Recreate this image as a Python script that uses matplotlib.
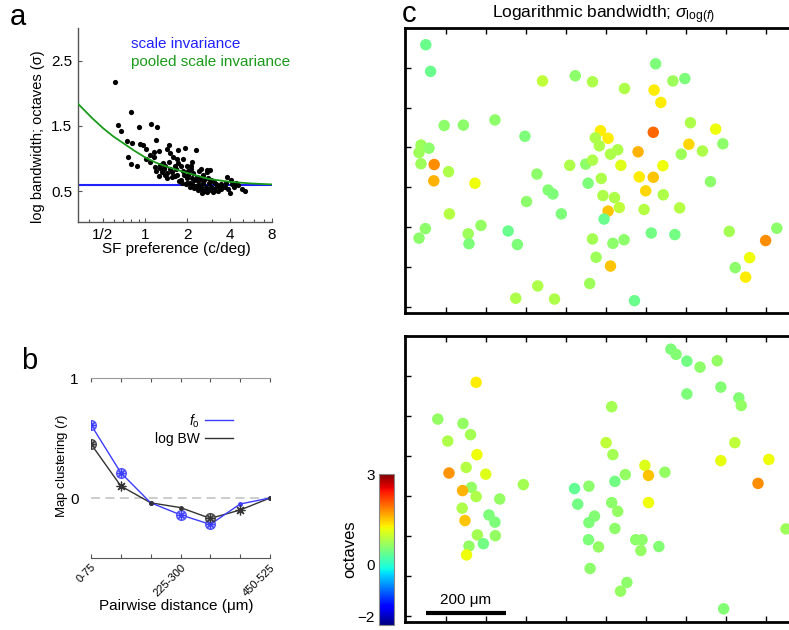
import numpy as np
import matplotlib
matplotlib.use('Agg')
import matplotlib.pyplot as plt
from matplotlib.colors import Normalize
from matplotlib.cm import ScalarMappable

plt.rcParams['font.family'] = ['Liberation Sans', 'DejaVu Sans']
plt.rcParams['mathtext.fontset'] = 'custom'
plt.rcParams['mathtext.rm'] = 'Liberation Sans'
plt.rcParams['mathtext.it'] = 'Liberation Sans:italic'

# ---- panel a: SF preference (octaves re 1 c/deg) vs log bandwidth
sf_oct = [-0.71, -0.34, -0.63, -0.56, -0.15, 0.14, 0.28, -0.42, -0.30, -0.12,
          -0.06, 0.25, 0.02, -0.41, -0.34, -0.20, 0.56, 0.33, 0.52, 0.78,
          0.95, 1.21, 0.22, 0.12, 0.20, 0.60, 0.66, 0.76, 0.89, 0.02,
          0.12, 1.10, 0.42, 0.56, 0.24, 0.36, 0.48, 0.58, 0.70, 0.84,
          0.98, 1.08, 0.26, 0.40, 0.52, 0.64, 0.76, 0.90, 1.02, 1.14,
          1.28, 1.46, 1.53, 0.34, 0.46, 0.86, 0.98, 1.10, 1.22, 1.36,
          1.48, 0.88, 1.06, 1.24, 1.36, 1.50, 1.64, 1.93, 2.02, 1.80,
          1.92, 2.06, 2.20, 1.20, 1.32, 1.44, 1.56, 1.70, 1.84, 1.24,
          1.40, 1.50, 1.64, 1.80, 1.96, 2.28, 2.36, 1.12, 0.98, 0.52,
          0.64, 0.74, 1.08, 1.72, 1.34, 1.16, 1.28, 1.58, 1.62, 1.76,
          0.92, 1.02, 1.16, 1.29, 1.40, 1.56, 1.68, 1.32, 1.46, 1.60,
          1.76, 1.88, 2.10, 2.16, 1.18, 1.06, 0.96, 0.80, 0.70, 0.44,
          0.36, 0.78, 1.32, 1.46, 2.00]
log_bw = [2.18, 1.71, 1.52, 1.42, 1.49, 1.53, 1.49, 1.27, 1.24, 1.23,
          1.21, 1.28, 1.14, 1.03, 0.92, 0.88, 1.21, 1.12, 1.15, 1.13,
          1.16, 1.13, 1.10, 1.05, 1.03, 1.08, 1.03, 0.99, 1.00, 0.99,
          0.95, 0.95, 0.94, 0.95, 0.87, 0.85, 0.88, 0.84, 0.89, 0.88,
          0.89, 0.84, 0.81, 0.80, 0.78, 0.79, 0.75, 0.81, 0.75, 0.78,
          0.81, 0.83, 0.83, 0.73, 0.75, 0.68, 0.70, 0.70, 0.72, 0.75,
          0.71, 0.62, 0.63, 0.66, 0.63, 0.63, 0.64, 0.72, 0.67, 0.61,
          0.62, 0.61, 0.60, 0.58, 0.57, 0.56, 0.57, 0.58, 0.56, 0.52,
          0.51, 0.52, 0.53, 0.53, 0.53, 0.53, 0.50, 0.61, 0.63, 0.71,
          0.72, 0.84, 0.89, 0.50, 0.48, 0.55, 0.60, 0.55, 0.50, 0.58,
          0.75, 0.81, 0.68, 0.69, 0.67, 0.68, 0.61, 0.53, 0.49, 0.49,
          0.57, 0.57, 0.56, 0.63, 0.56, 0.57, 0.61, 0.66, 0.74, 0.84,
          0.91, 0.94, 0.84, 0.79, 0.47]
fit_oct = [-1.585, -1.25, -1.0, -0.75, -0.5, -0.25, 0.0, 0.25, 0.5, 1.0, 1.5, 2.0, 2.5, 3.0]
fit_bw = [1.84, 1.62, 1.47, 1.34, 1.23, 1.12, 1.02, 0.94, 0.88, 0.78, 0.69, 0.645, 0.62, 0.605]
scale_inv_bw = 0.59

# ---- panel b: map clustering vs pairwise distance
dist_labels = ['0-75', '', '', '225-300', '', '', '450-525']
r_fo = [0.61, 0.21, -0.04, -0.14, -0.22, -0.05, 0.0]
r_bw = [0.45, 0.10, -0.04, -0.08, -0.17, -0.10, 0.0]
sig_fo = [2, 2, 0, 2, 2, 0, 0]   # 2 circle+star, 1 star, 0 dot
sig_bw = [2, 1, 0, 0, 2, 1, 0]

# ---- panel c: cell positions (um) and log bandwidth (octaves)
top_x = [50, 62, 342, 424, 467, 547, 625, 668, 698, 621, 638, 96, 144, 223, 298,
         487, 506, 474, 484, 619, 712, 775, 708, 793, 742, 689, 581, 530, 512, 38,
         58, 33, 38, 71, 70, 107, 173, 328, 410, 450, 467, 538, 643, 584, 619,
         489, 456, 762, 600, 644, 356, 368, 493, 522, 302, 534, 506, 596, 685, 389,
         496, 109, 188, 156, 158, 49, 33, 256, 279, 467, 518, 546, 614, 673, 476,
         512, 809, 928, 900, 860, 824, 850, 330, 460, 275, 372, 572]
top_y = [658, 591, 567, 580, 565, 548, 610, 567, 573, 544, 513, 455, 456, 469, 428,
         442, 423, 424, 404, 438, 462, 446, 408, 409, 391, 383, 389, 394, 383, 406,
         398, 387, 359, 357, 316, 339, 310, 333, 355, 358, 368, 355, 354, 326, 325,
         322, 310, 314, 291, 281, 293, 283, 279, 274, 264, 249, 240, 244, 248, 233,
         220, 233, 204, 183, 158, 196, 172, 190, 156, 170, 159, 168, 185, 181, 124,
         102, 189, 197, 166, 123, 98, 74, 52, 58, 21, 19, 15]
top_v = [0.4, 0.4, 0.9, 0.6, 0.8, 0.8, 0.5, 0.7, 0.5, 1.3, 1.3, 0.6, 0.6, 0.6, 0.5,
         1.3, 1.3, 0.8, 0.8, 2.0, 0.8, 1.2, 1.4, 0.6, 0.8, 0.7, 1.6, 0.8, 0.8, 0.7,
         0.6, 0.7, 0.7, 1.8, 1.6, 0.8, 1.2, 0.6, 0.8, 0.6, 0.8, 1.1, 1.2, 1.3, 1.5,
         0.8, 0.5, 0.6, 1.4, 0.8, 0.55, 0.5, 0.8, 0.8, 0.6, 0.9, 1.5, 0.85, 0.85, 0.5,
         0.4, 0.85, 0.65, 0.7, 0.5, 0.6, 0.6, 0.4, 0.5, 0.75, 0.6, 0.6, 0.45, 0.45, 0.7,
         1.5, 0.75, 0.6, 1.8, 1.2, 0.6, 1.3, 0.8, 0.7, 0.8, 0.8, 0.4]

bot_x = [663, 676, 703, 736, 779, 703, 788, 833, 839, 176, 515, 80, 143, 162, 105,
         178, 151, 108, 200, 164, 142, 176, 235, 141, 148, 208, 223, 179, 224, 194,
         158, 152, 294, 501, 518, 598, 607, 648, 549, 523, 458, 422, 430, 515, 530,
         472, 458, 523, 457, 482, 575, 591, 588, 633, 607, 461, 553, 537, 795, 823,
         788, 908, 881, 951]
bot_y = [667, 654, 637, 622, 638, 555, 572, 545, 526, 584, 523, 492, 481, 453, 437,
         403, 371, 357, 354, 321, 313, 298, 292, 269, 238, 252, 234, 202, 200, 180,
         174, 152, 328, 433, 403, 376, 351, 359, 353, 336, 324, 318, 279, 283, 261,
         249, 233, 218, 190, 172, 190, 190, 163, 173, 283, 118, 83, 61, 17, 433,
         388, 391, 331, 217]
bot_v = [0.5, 0.55, 0.45, 0.6, 0.65, 0.5, 0.55, 0.55, 0.65, 1.3, 0.75, 0.65, 0.65, 0.75, 0.8,
         1.2, 0.85, 1.75, 1.1, 0.65, 1.6, 0.8, 0.65, 0.8, 1.5, 0.5, 0.5, 0.75, 0.65, 0.45,
         0.65, 1.2, 0.75, 0.9, 0.75, 1.1, 1.5, 0.65, 0.65, 0.45, 0.6, 0.35, 0.45, 0.6, 0.65,
         0.55, 0.5, 0.6, 0.5, 0.65, 0.6, 0.6, 0.65, 0.55, 1.2, 0.6, 0.6, 0.65, 0.55, 0.9,
         1.15, 1.2, 1.8, 0.7]

fig = plt.figure(figsize=(7.89, 6.30), dpi=100)
W, H = 789.0, 630.0

def box(l, t, r, b):
    return [l / W, 1 - b / H, (r - l) / W, (b - t) / H]

# ================= panel a
axa = fig.add_axes(box(78, 28, 272, 222))
sf = 2.0 ** np.array(sf_oct)
axa.scatter(sf, log_bw, s=14, color='k', zorder=3, linewidths=0)
axa.plot([1 / 3, 8], [scale_inv_bw, scale_inv_bw], color='#2020ff', lw=1.5, zorder=2)
axa.plot(2.0 ** np.array(fit_oct), fit_bw, color='#1a9a1a', lw=1.3, zorder=4)
axa.set_xscale('log', base=2)
axa.set_xlim(1 / 3, 8)
axa.set_ylim(0.03, 3.0)
axa.set_xticks([0.5, 1, 2, 4, 8])
axa.set_xticklabels(['1/2', '1', '2', '4', '8'])
axa.set_xticks([0.4, 0.6, 0.7, 0.8, 0.9, 3, 5, 6, 7], minor=True)
axa.xaxis.set_minor_formatter(plt.NullFormatter())
axa.set_yticks([0.5, 1.5, 2.5])
axa.set_yticklabels(['0.5', '1.5', '2.5'])
axa.tick_params(direction='in', length=3, width=0.8, labelsize=11, color='#555555', pad=4)
axa.tick_params(which='minor', direction='in', length=2, width=0.8, color='#555555')
for s in ['top', 'right']:
    axa.spines[s].set_visible(False)
for s in ['left', 'bottom']:
    axa.spines[s].set_color('#555555')
    axa.spines[s].set_linewidth(1.0)
axa.set_xlabel('SF preference (c/deg)', fontsize=11)
axa.xaxis.set_label_coords(0.505, -0.105)
axa.set_ylabel('log bandwidth; octaves (σ)', fontsize=10.5)
axa.yaxis.set_label_coords(-0.17, 0.44)
axa.text(0.273, 0.918, 'scale invariance', color='#2020ff', fontsize=11,
         transform=axa.transAxes, va='center', ha='left')
axa.text(0.273, 0.825, 'pooled scale invariance', color='#1a9a1a', fontsize=11,
         transform=axa.transAxes, va='center', ha='left', clip_on=False)

# ================= panel b
axb = fig.add_axes(box(91, 378, 270, 558))
xb = np.arange(len(r_fo))
axb.axhline(0, color='#c8c8c8', lw=1.3, ls=(0, (5, 3)), zorder=1)
axb.plot(xb, r_fo, color='#3c3cff', lw=1.0, zorder=3, label=r'$f_\mathrm{o}$')
axb.plot(xb, r_bw, color='#333333', lw=1.0, zorder=2, label='log BW')
for vals, sig, col, fill in [(r_fo, sig_fo, '#3c3cff', '#b4b4ff'),
                              (r_bw, sig_bw, '#333333', '#aaaaaa')]:
    for i in range(len(vals)):
        if sig[i] == 2:
            axb.plot(i, vals[i], 'o', ms=7, mfc=fill, mec=col, mew=1.0, alpha=0.85, zorder=4)
            axb.plot(i, vals[i], marker=(8, 2, 0), ms=6, color=col, mew=0.8, zorder=5)
        elif sig[i] == 1:
            axb.plot(i, vals[i], marker=(8, 2, 0), ms=7, color=col, mew=0.9, zorder=5)
        else:
            axb.plot(i, vals[i], 'o', ms=2.5, color=col, zorder=5)
axb.set_xlim(0, 6)
axb.set_ylim(-0.5, 1)
axb.set_xticks(xb)
axb.set_xticklabels(dist_labels, rotation=45, ha='right', va='top',
                    rotation_mode='anchor', fontsize=8)
axb.set_yticks([0, 1])
axb.set_yticklabels(['0', '1'])
axb.tick_params(axis='x', direction='in', length=3, width=0.8, color='#555555',
                top=True, pad=3)
axb.tick_params(axis='y', length=0, labelsize=11, pad=9)
for s in ['left', 'right']:
    axb.spines[s].set_visible(False)
axb.spines['top'].set_color('#999999')
axb.spines['bottom'].set_color('#555555')
axb.set_xlabel('Pairwise distance (μm)', fontsize=11)
axb.xaxis.set_label_coords(0.475, -0.23)
axb.set_ylabel(r'Map clustering ($r$)', fontsize=9.5)
axb.yaxis.set_label_coords(-0.12, 0.51)
leg = axb.legend(loc='center', bbox_to_anchor=(0.575, 0.717), frameon=False,
                 markerfirst=False, fontsize=10, handlelength=2.0,
                 handletextpad=0.4, labelspacing=0.15)
for t in leg.get_texts():
    t.set_ha('right')

# ================= panel c
norm = Normalize(vmin=-2, vmax=3)
cmap = plt.get_cmap('jet')

def map_panel(ax, x, y, v):
    ax.scatter(x, y, c=v, cmap=cmap, norm=norm, s=68, linewidths=0, zorder=3)
    ax.set_xlim(-2, 986)
    ax.set_ylim(-16, 700)
    ax.set_xticks(np.arange(100, 1000, 100))
    ax.set_yticks(np.arange(0, 700, 100))
    ax.tick_params(direction='in', length=4, width=1.0, top=True, right=True,
                   labelbottom=False, labelleft=False)
    for s in ax.spines.values():
        s.set_linewidth(2.0)

axc1 = fig.add_axes(box(405, 28, 800, 313))
map_panel(axc1, top_x, top_y, top_v)
axc2 = fig.add_axes(box(405, 336, 800, 622))
map_panel(axc2, bot_x, bot_y, bot_v)
axc2.plot([50, 250], [7, 7], color='k', lw=3, solid_capstyle='butt', zorder=4)
axc2.text(150, 40, '200 μm', ha='center', va='center', fontsize=11)

fig.text(604 / W, 1 - 15 / H, r'Logarithmic bandwidth; $\sigma_{\mathrm{log}(f)}$',
         ha='center', va='center', fontsize=12.5)

# colorbar
cax = fig.add_axes(box(379, 474, 394, 625))
cb = fig.colorbar(ScalarMappable(norm=norm, cmap=cmap), cax=cax, ticks=[-2, 0, 3])
cb.ax.yaxis.set_ticks_position('left')
cb.ax.yaxis.set_label_position('left')
cb.ax.tick_params(length=0, labelsize=11, pad=3)
cb.ax.get_yticklabels()[0].set_va('bottom')
cb.outline.set_edgecolor('#888888')
cb.outline.set_linewidth(0.8)
cb.set_label('octaves', fontsize=12, labelpad=0)

# panel letters
fig.text(18 / W, 1 - 17 / H, 'a', fontsize=21, ha='center', va='center')
fig.text(29 / W, 1 - 361 / H, 'b', fontsize=21, ha='center', va='center')
fig.text(409 / W, 1 - 14 / H, 'c', fontsize=21, ha='center', va='center')

fig.savefig('out.png', dpi=100)
